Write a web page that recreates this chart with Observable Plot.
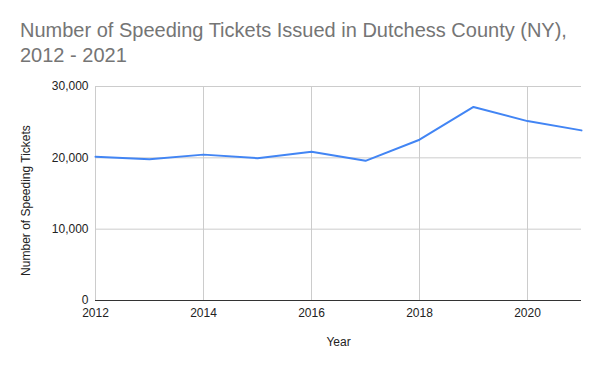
<!DOCTYPE html>
<html>
<head>
<meta charset="utf-8">
<script src="https://cdn.jsdelivr.net/npm/d3@7"></script>
<script src="https://cdn.jsdelivr.net/npm/@observablehq/plot@0.6"></script>
<style>
  html, body { margin: 0; padding: 0; background: #fff; }
  #wrap { position: relative; width: 600px; height: 371px; font-family: "Liberation Sans", Arial, sans-serif; }
  #title { position: absolute; left: 20px; top: 18px; font-size: 20px; line-height: 25px; color: #757575; width: 560px; }
  #chart { position: absolute; left: 0; top: 0; }
</style>
</head>
<body>
<div id="wrap">
  <div id="chart"></div>
  <div id="title">Number of Speeding Tickets Issued in Dutchess County (NY),<br>2012 - 2021</div>
</div>
<script>
const years = [2012, 2013, 2014, 2015, 2016, 2017, 2018, 2019, 2020, 2021];
const tickets = [20150, 19800, 20450, 19950, 20850, 19580, 22540, 27130, 25150, 23850];
const xTicks = [2012, 2014, 2016, 2018, 2020];
const yTicks = [0, 10000, 20000, 30000];
const xLabel = "Year";
const yLabel = "Number of Speeding Tickets";

const data = years.map((y, i) => ({year: y, value: tickets[i]}));

const chart = Plot.plot({
  width: 600,
  height: 371,
  marginTop: 86,
  marginBottom: 71,
  marginLeft: 95,
  marginRight: 19,
  style: {fontFamily: "'Liberation Sans', Arial, sans-serif", fontSize: "12px", color: "#222", background: "#fff"},
  x: {domain: [2012, 2021]},
  y: {domain: [0, 30000]},
  marks: [
    Plot.gridX(xTicks, {stroke: "#cccccc", strokeOpacity: 1}),
    Plot.gridY(yTicks, {stroke: "#cccccc", strokeOpacity: 1}),
    Plot.axisX(xTicks, {tickSize: 0, tickPadding: 8, tickFormat: d => String(d), label: null, fontSize: 12}),
    Plot.axisY(yTicks, {tickSize: 0, tickPadding: 7, tickFormat: d3.format(","), label: null, fontSize: 12}),
    Plot.text([yLabel], {text: d => d, frameAnchor: "left", textAnchor: "middle", rotate: -90, dx: -69, dy: 7, fontSize: 12, fill: "#222"}),
    Plot.text([xLabel], {text: d => d, frameAnchor: "bottom", dy: 45, fontSize: 12, fill: "#222"}),
    Plot.ruleY([0], {stroke: "#333333", strokeWidth: 1}),
    Plot.line(data, {x: "year", y: "value", stroke: "#4285F4", strokeWidth: 2})
  ]
});
document.getElementById("chart").appendChild(chart);
</script>
</body>
</html>
